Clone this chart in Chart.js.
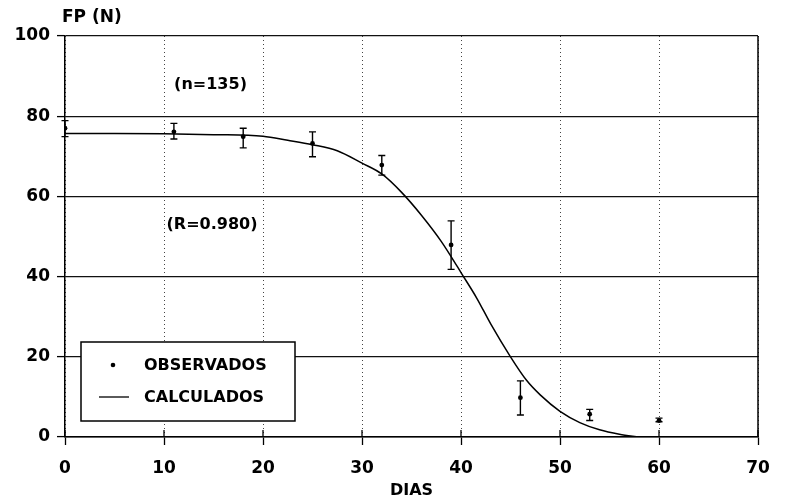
<!DOCTYPE html>
<html>
<head>
<meta charset="utf-8">
<script src="https://cdn.jsdelivr.net/npm/chart.js@4/dist/chart.umd.min.js"></script>
<style>
html,body{margin:0;padding:0;background:#fff;}
#wrap{width:790px;height:503px;position:relative;}
</style>
</head>
<body>
<div id="wrap"><canvas id="c" width="790" height="503"></canvas></div>
<script>
// Observed values (days, FP) with error bar limits
const obsX   = [0, 11, 18, 25, 32, 39, 46, 53, 60];
const obsY   = [77.0, 76.1, 74.9, 73.2, 67.8, 47.9, 9.8, 5.7, 4.1];
const errHi  = [78.9, 78.2, 77.0, 76.1, 70.2, 53.9, 14.0, 6.9, 4.7];
const errLo  = [74.9, 74.3, 72.1, 69.9, 65.3, 41.8, 5.5, 4.1, 3.8];

// Calculated curve
const curveX = [0, 5, 10, 15, 20, 22.5, 25, 27.5, 30, 32, 34, 36, 38, 39, 40, 41.6, 43, 45, 46.6, 48, 50, 52, 54, 56, 58];
const curveY = [75.7, 75.7, 75.6, 75.4, 75.0, 74.0, 72.9, 71.4, 68.3, 65.6, 61.0, 55.3, 48.8, 45.0, 41.0, 34.6, 28.2, 20.0, 14.2, 10.5, 6.4, 3.6, 1.8, 0.7, 0];

const xTicks = [0, 10, 20, 30, 40, 50, 60, 70];
const yTicks = [0, 20, 40, 60, 80, 100];

const legendLabels = ['OBSERVADOS', 'CALCULADOS'];
const yAxisTitle = 'FP (N)';
const xAxisTitle = 'DIAS';
const notes = ['(n=135)', '(R=0.980)'];

const FONT = '"DejaVu Sans", "Liberation Sans", sans-serif';

const extras = {
  id: 'extras',
  afterDatasetsDraw(chart) {
    const ctx = chart.ctx;
    const xs = chart.scales.x, ys = chart.scales.y;
    const ca = chart.chartArea;
    ctx.save();
    ctx.setLineDash([]);
    // error bars
    ctx.strokeStyle = '#000';
    ctx.lineWidth = 1.4;
    for (let i = 0; i < obsX.length; i++) {
      const px = xs.getPixelForValue(obsX[i]);
      const ph = ys.getPixelForValue(errHi[i]);
      const pl = ys.getPixelForValue(errLo[i]);
      ctx.beginPath();
      ctx.moveTo(px, ph); ctx.lineTo(px, pl);
      ctx.moveTo(px - 3.5, ph); ctx.lineTo(px + 3.5, ph);
      ctx.moveTo(px - 3.5, pl); ctx.lineTo(px + 3.5, pl);
      ctx.stroke();
    }
    // right border
    ctx.lineWidth = 1.5;
    ctx.beginPath();
    ctx.moveTo(ca.right, ca.top); ctx.lineTo(ca.right, ca.bottom);
    ctx.stroke();
    // inner tick marks on x axis
    ctx.lineWidth = 1.3;
    xTicks.forEach(v => {
      const px = xs.getPixelForValue(v);
      ctx.beginPath();
      ctx.moveTo(px, ca.bottom - 7); ctx.lineTo(px, ca.bottom);
      ctx.stroke();
    });
    // notes
    ctx.fillStyle = '#000';
    ctx.font = 'bold 16px ' + FONT;
    ctx.textAlign = 'center';
    ctx.textBaseline = 'middle';
    ctx.fillText(notes[0], xs.getPixelForValue(14.7), ys.getPixelForValue(87.8));
    ctx.fillText(notes[1], xs.getPixelForValue(14.85), ys.getPixelForValue(52.9));
    // y axis title
    ctx.font = 'bold 17px ' + FONT;
    ctx.textAlign = 'left';
    ctx.fillText(yAxisTitle, ca.left - 3, 18);
    // legend box
    const bx = ca.left + 16, by = ca.top + 306, bw = 214, bh = 79;
    ctx.fillStyle = '#fff';
    ctx.fillRect(bx, by, bw, bh);
    ctx.strokeStyle = '#000';
    ctx.lineWidth = 1.5;
    ctx.strokeRect(bx, by, bw, bh);
    ctx.fillStyle = '#000';
    ctx.beginPath();
    ctx.arc(bx + 32, by + 23, 2.3, 0, Math.PI * 2);
    ctx.fill();
    ctx.lineWidth = 1.3;
    ctx.beginPath();
    ctx.moveTo(bx + 18, by + 55); ctx.lineTo(bx + 48, by + 55);
    ctx.stroke();
    ctx.font = 'bold 16px ' + FONT;
    ctx.textAlign = 'left';
    ctx.fillText(legendLabels[0], bx + 63, by + 24);
    ctx.fillText(legendLabels[1], bx + 63, by + 56);
    ctx.restore();
  }
};

new Chart(document.getElementById('c'), {
  type: 'scatter',
  data: {
    datasets: [
      {
        label: legendLabels[1],
        data: curveX.map((x, i) => ({x: x, y: curveY[i]})),
        showLine: true,
        borderColor: '#000',
        borderWidth: 1.5,
        pointRadius: 0,
        cubicInterpolationMode: 'monotone',
        order: 2
      },
      {
        label: legendLabels[0],
        data: obsX.map((x, i) => ({x: x, y: obsY[i]})),
        showLine: false,
        pointRadius: 2.4,
        pointBackgroundColor: '#000',
        pointBorderColor: '#000',
        pointBorderWidth: 0,
        order: 1
      }
    ]
  },
  options: {
    responsive: false,
    animation: false,
    devicePixelRatio: 1,
    layout: { padding: { top: 36, right: 32, left: 0, bottom: 0 } },
    plugins: { legend: { display: false }, tooltip: { enabled: false } },
    scales: {
      x: {
        type: 'linear',
        min: 0, max: 70,
        afterFit(s) { s.height = 66; },
        afterBuildTicks(s) { s.ticks = xTicks.map(v => ({value: v})); },
        ticks: {
          color: '#000',
          font: { family: FONT, size: 17, weight: 'bold' },
          padding: 13,
          maxRotation: 0,
          callback: v => String(v)
        },
        grid: {
          color: '#444',
          lineWidth: 1,
          tickLength: 8,
          tickColor: '#000',
          tickWidth: 1.3,
          tickBorderDash: []
        },
        border: { display: true, color: '#000', width: 1.5, dash: [1, 3] },
        title: {
          display: true,
          text: xAxisTitle,
          color: '#000',
          font: { family: FONT, size: 16, weight: 'bold' },
          padding: { top: 0, bottom: 3 }
        }
      },
      y: {
        type: 'linear',
        min: 0, max: 100,
        afterFit(s) { s.width = 65; },
        afterBuildTicks(s) { s.ticks = yTicks.map(v => ({value: v})); },
        ticks: {
          color: '#000',
          font: { family: FONT, size: 17, weight: 'bold' },
          padding: 7,
          callback: v => String(v)
        },
        grid: {
          color: '#111',
          lineWidth: 1.2,
          tickLength: 8,
          tickColor: '#000',
          tickWidth: 1.3
        },
        border: { display: true, color: '#000', width: 1.5 }
      }
    }
  },
  plugins: [extras]
});
</script>
</body>
</html>
